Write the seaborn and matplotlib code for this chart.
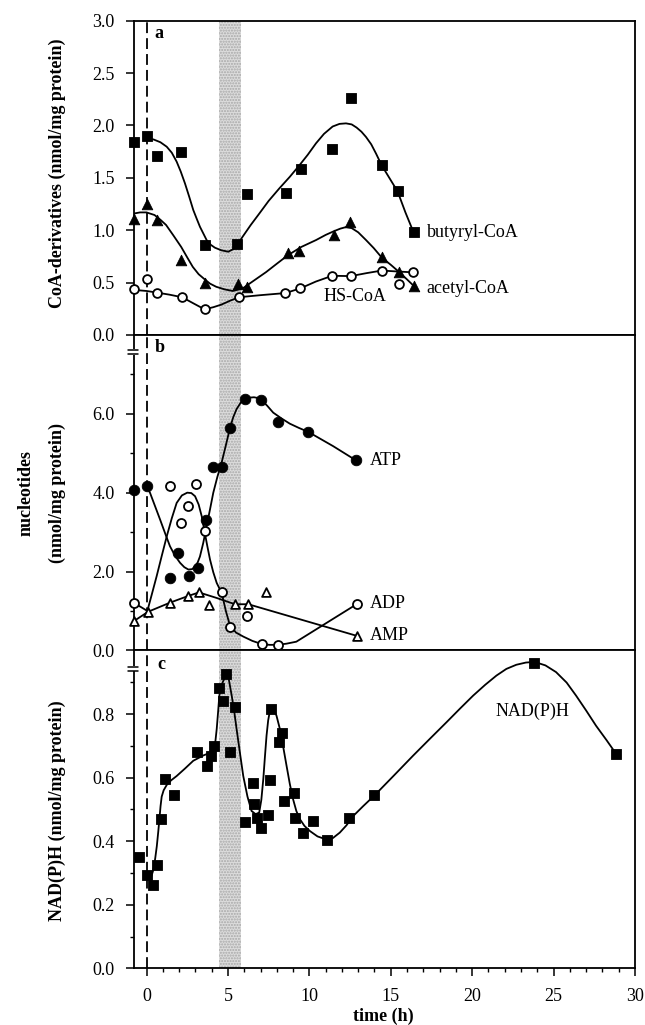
import matplotlib
matplotlib.use("Agg")
import matplotlib.pyplot as plt
from matplotlib.ticker import MultipleLocator, FixedLocator, FormatStrFormatter
import seaborn as sns

# ---------------- data ----------------
# panel a : CoA derivatives
t_butyryl = [-0.75, 0.0, 0.66, 2.09, 3.58, 5.56, 6.2, 8.57, 9.49, 11.37, 12.56, 14.44, 15.42, 16.4]
butyryl = [1.84, 1.90, 1.71, 1.75, 0.86, 0.87, 1.35, 1.36, 1.58, 1.78, 2.26, 1.62, 1.37, 0.98]
t_butyryl_fit = [0.0, 0.42, 0.85, 1.24, 1.55, 1.85, 2.1, 2.36, 2.62, 2.87, 3.08, 3.28, 3.5, 3.69,
                 3.95, 4.2, 4.6, 5.02, 5.43, 5.91, 6.4, 6.93, 7.5, 8.16, 8.8, 9.39, 9.9, 10.41,
                 10.9, 11.43, 11.85, 12.25, 12.6, 12.9, 13.2, 13.48, 13.8, 14.1, 14.44, 14.91,
                 15.42, 15.9, 16.4]
butyryl_fit = [1.87, 1.867, 1.84, 1.797, 1.74, 1.654, 1.56, 1.447, 1.32, 1.193, 1.11, 1.033, 0.965,
               0.906, 0.86, 0.833, 0.808, 0.795, 0.827, 0.94, 1.05, 1.16, 1.28, 1.40, 1.51, 1.62,
               1.72, 1.83, 1.92, 1.99, 2.015, 2.02, 2.01, 1.98, 1.94, 1.89, 1.82, 1.73, 1.62, 1.50,
               1.37, 1.17, 0.98]

t_acetyl = [-0.75, 0.0, 0.66, 2.13, 3.58, 5.64, 6.18, 8.67, 9.39, 11.49, 12.5, 14.44, 15.52, 16.4]
acetyl = [1.11, 1.25, 1.10, 0.72, 0.50, 0.49, 0.455, 0.78, 0.80, 0.955, 1.075, 0.74, 0.60, 0.47]
t_acetyl_fit = [-0.75, -0.4, 0.0, 0.49, 0.85, 1.2, 1.65, 2.13, 2.5, 2.84, 3.2, 3.58, 3.9, 4.28,
                4.8, 5.3, 5.91, 6.6, 7.34, 8.0, 8.67, 9.5, 10.41, 11.0, 11.5, 11.9, 12.25, 12.6,
                13.0, 13.48, 13.95, 14.44, 15.0, 15.52, 16.0, 16.4]
acetyl_fit = [1.16, 1.17, 1.17, 1.145, 1.10, 1.05, 0.95, 0.84, 0.74, 0.65, 0.58, 0.53, 0.49, 0.46,
              0.435, 0.42, 0.445, 0.52, 0.60, 0.68, 0.76, 0.84, 0.906, 0.955, 0.99, 1.015, 1.03,
              1.02, 0.98, 0.906, 0.83, 0.74, 0.67, 0.60, 0.53, 0.47]

t_hscoa = [-0.75, 0.0, 0.66, 2.19, 3.56, 5.66, 8.53, 9.45, 11.4, 12.55, 14.45, 15.52, 16.34]
hscoa = [0.436, 0.534, 0.404, 0.36, 0.245, 0.36, 0.40, 0.445, 0.565, 0.562, 0.615, 0.487, 0.598]
t_hscoa_fit = [-0.75, 0.0, 0.66, 1.4, 2.19, 2.9, 3.56, 4.1, 4.6, 5.1, 5.66, 7.0, 8.53, 9.45, 10.4,
               11.4, 12.55, 13.5, 14.45, 15.4, 16.34]
hscoa_fit = [0.43, 0.42, 0.404, 0.385, 0.36, 0.30, 0.245, 0.265, 0.29, 0.325, 0.36, 0.38, 0.40,
             0.445, 0.51, 0.565, 0.562, 0.59, 0.615, 0.606, 0.598]

# panel b : nucleotides
t_atp = [-0.75, 0.0, 1.47, 1.96, 2.6, 3.15, 3.66, 4.07, 4.62, 5.13, 6.05, 7.05, 8.06, 9.94, 12.86]
atp = [4.08, 4.17, 1.83, 2.47, 1.89, 2.09, 3.30, 4.65, 4.65, 5.65, 6.37, 6.35, 5.80, 5.54, 4.82]
t_atp_fit = [0.0, 0.21, 0.52, 0.83, 1.14, 1.44, 1.75, 2.06, 2.32, 2.57, 2.8, 2.98, 3.14, 3.28,
             3.48, 3.69, 3.9, 4.1, 4.35, 4.61, 4.87, 5.13, 5.33, 5.53, 5.78, 6.05, 6.3, 6.6, 6.85,
             7.05, 7.4, 7.78, 8.3, 8.8, 9.37, 9.94, 10.7, 11.46, 12.16, 12.86]
atp_fit = [4.17, 4.0, 3.66, 3.32, 2.97, 2.64, 2.40, 2.22, 2.11, 2.05, 2.06, 2.13, 2.23, 2.38, 2.72,
           3.15, 3.58, 4.0, 4.40, 4.76, 5.2, 5.65, 5.92, 6.12, 6.28, 6.37, 6.41, 6.42, 6.40, 6.35,
           6.21, 6.03, 5.88, 5.75, 5.64, 5.54, 5.36, 5.18, 5.0, 4.82]

t_adp = [-0.75, 1.47, 2.09, 2.53, 3.05, 3.56, 4.61, 5.12, 6.15, 7.07, 8.05, 12.9]
adp = [1.2, 4.17, 3.23, 3.66, 4.21, 3.02, 1.48, 0.60, 0.88, 0.155, 0.14, 1.17]
t_adp_fit = [-0.75, 0.05, 0.33, 0.62, 0.93, 1.24, 1.55, 1.85, 2.17, 2.5, 2.75, 2.98, 3.2, 3.39,
             3.56, 3.73, 3.9, 4.1, 4.31, 4.62, 4.87, 5.13, 5.5, 5.94, 6.5, 7.07, 7.55, 8.05, 8.6,
             9.2, 12.9]
adp_fit = [1.2, 1.0, 1.43, 1.88, 2.39, 2.89, 3.35, 3.74, 3.93, 4.0, 3.99, 3.91, 3.70, 3.40, 3.02,
           2.65, 2.3, 1.98, 1.71, 1.45, 1.0, 0.62, 0.45, 0.35, 0.24, 0.16, 0.14, 0.14, 0.17, 0.22,
           1.17]

t_amp = [-0.75, 0.1, 1.44, 2.56, 3.22, 3.85, 5.43, 6.25, 7.31, 12.9]
amp = [0.75, 0.98, 1.21, 1.38, 1.47, 1.14, 1.17, 1.17, 1.48, 0.37]
t_amp_fit = [-0.75, 0.1, 1.44, 2.56, 3.22, 4.3, 5.43, 6.25, 12.9]
amp_fit = [0.75, 0.98, 1.21, 1.38, 1.47, 1.33, 1.17, 1.17, 0.37]

# panel c : NAD(P)H
t_nad = [-0.44, 0.04, 0.37, 0.66, 0.9, 1.12, 1.7, 3.09, 3.72, 3.97, 4.13, 4.44, 4.68, 4.91, 5.13,
         5.44, 6.05, 6.52, 6.63, 6.77, 7.04, 7.44, 7.59, 7.67, 8.12, 8.32, 8.47, 9.08, 9.14, 9.63,
         10.2, 11.08, 12.41, 14.0, 23.8, 28.85]
nad = [0.351, 0.293, 0.263, 0.324, 0.471, 0.595, 0.545, 0.681, 0.637, 0.669, 0.700, 0.882, 0.840,
       0.927, 0.682, 0.823, 0.461, 0.582, 0.516, 0.472, 0.440, 0.482, 0.592, 0.816, 0.711, 0.739,
       0.526, 0.550, 0.472, 0.427, 0.463, 0.405, 0.472, 0.545, 0.96, 0.674]
t_nad_fit = [0.3, 0.42, 0.53, 0.63, 0.72, 0.79, 0.86, 0.93, 1.05, 1.24, 1.5, 1.85, 2.35, 2.87, 3.5,
             3.85, 4.1, 4.22, 4.31, 4.4, 4.47, 4.6, 4.72, 4.82, 4.91, 5.05, 5.23, 5.38, 5.53, 5.73,
             5.94, 6.2, 6.45, 6.7, 6.92, 7.05, 7.17, 7.27, 7.37, 7.47, 7.58, 7.68, 7.78, 7.98,
             8.19, 8.4, 8.6, 8.8, 9.0, 9.2, 9.42, 9.7, 10.03, 10.5, 11.06, 11.45, 11.87, 12.28,
             12.69, 13.3, 14.02, 15.2, 16.37, 17.4, 18.42, 19.25, 20.06, 20.8, 21.49, 22.1, 22.71,
             23.3, 23.83, 24.5, 25.15, 25.8, 26.38, 27.0, 27.61, 28.25, 28.85]
nad_fit = [0.29, 0.31, 0.345, 0.384, 0.43, 0.469, 0.51, 0.54, 0.56, 0.577, 0.591, 0.605, 0.628,
           0.653, 0.67, 0.677, 0.684, 0.71, 0.753, 0.81, 0.858, 0.89, 0.905, 0.915, 0.927, 0.91,
           0.858, 0.81, 0.753, 0.68, 0.605, 0.54, 0.495, 0.485, 0.49, 0.53, 0.595, 0.665, 0.732,
           0.78, 0.811, 0.82, 0.818, 0.795, 0.753, 0.695, 0.637, 0.58, 0.532, 0.495, 0.469, 0.448,
           0.432, 0.415, 0.405, 0.41, 0.427, 0.45, 0.479, 0.51, 0.545, 0.607, 0.669, 0.722, 0.774,
           0.817, 0.858, 0.892, 0.921, 0.942, 0.955, 0.962, 0.964, 0.953, 0.932, 0.899, 0.858,
           0.811, 0.763, 0.718, 0.674]

band = [4.48, 5.81]
x_ticks = [0, 5, 10, 15, 20, 25, 30]

# ---------------- style ----------------
sns.set_theme(style="ticks", rc={
    "axes.edgecolor": "black", "xtick.color": "black", "ytick.color": "black",
    "text.color": "black", "axes.labelcolor": "black", "axes.linewidth": 1.3,
})
plt.rcParams["font.family"] = ["Liberation Serif", "DejaVu Serif"]
FS = 13

fig = plt.figure(figsize=(6.45, 10.25), dpi=100)
L, W = 0.2070, 0.7775
ax_a = fig.add_axes([L, 0.6732, W, 0.3066])
ax_b = fig.add_axes([L, 0.3655, W, 0.3077])
ax_c = fig.add_axes([L, 0.0553, W, 0.3101])


def fit(ax, t, v):
    sns.lineplot(x=t, y=v, sort=False, estimator=None, color="black", linewidth=1.3, ax=ax, zorder=3)


def pts(ax, t, v, marker, s, filled=True):
    sns.scatterplot(x=t, y=v, ax=ax, marker=marker, s=s,
                    color="black" if filled else "white", edgecolor="black",
                    linewidth=0.6 if filled else 1.3, zorder=4, clip_on=False)


def axis_break(ax, yf):
    ax.plot([0, 0], [yf - 0.008, yf + 0.008], transform=ax.transAxes, color="white",
            lw=3, clip_on=False, zorder=10, solid_capstyle="butt")
    for dy in (-0.0065, 0.0065):
        ax.plot([-0.011, 0.009], [yf + dy, yf + dy], transform=ax.transAxes, color="black",
                lw=1.1, clip_on=False, zorder=11)


for ax in (ax_a, ax_b, ax_c):
    ax.axvspan(band[0], band[1], facecolor="#dcdcdc", edgecolor="#a8a8a8", hatch="......",
               linewidth=0, zorder=0)
    ax.axvline(0, color="black", lw=1.3, ls=(0, (6, 2.8)), zorder=2)
    ax.set_xlim(-0.8, 30)
    for sp in ax.spines.values():
        sp.set_linewidth(1.3)
    ax.tick_params(axis="y", which="major", direction="out", length=5.5, width=1.1,
                   labelsize=FS, pad=8)
    ax.tick_params(axis="y", which="minor", direction="out", length=3, width=1.0)
    ax.set_xlabel("")
    ax.set_ylabel("")

# panel a
fit(ax_a, t_butyryl_fit, butyryl_fit)
fit(ax_a, t_acetyl_fit, acetyl_fit)
fit(ax_a, t_hscoa_fit, hscoa_fit)
pts(ax_a, t_butyryl, butyryl, "s", 62)
pts(ax_a, t_acetyl, acetyl, "^", 58)
pts(ax_a, t_hscoa, hscoa, "o", 40, filled=False)
ax_a.set_ylim(0, 3.0)
ax_a.yaxis.set_major_locator(MultipleLocator(0.5))
ax_a.yaxis.set_major_formatter(FormatStrFormatter("%.1f"))
ax_a.tick_params(axis="x", bottom=False, labelbottom=False)
ax_a.text(17.25, 0.98, "butyryl-CoA", fontsize=FS, va="center", ha="left")
ax_a.text(17.2, 0.445, "acetyl-CoA", fontsize=FS, va="center", ha="left")
ax_a.text(12.8, 0.365, "HS-CoA", fontsize=FS, va="center", ha="center")
ax_a.text(0.77, 2.88, "a", fontsize=FS, fontweight="bold", va="center", ha="center")

# panel b
fit(ax_b, t_atp_fit, atp_fit)
fit(ax_b, t_adp_fit, adp_fit)
fit(ax_b, t_amp_fit, amp_fit)
pts(ax_b, t_atp, atp, "o", 58)
pts(ax_b, t_adp, adp, "o", 42, filled=False)
pts(ax_b, t_amp, amp, "^", 40, filled=False)
ax_b.set_ylim(0, 8.0)
ax_b.yaxis.set_major_locator(FixedLocator([0, 2, 4, 6]))
ax_b.yaxis.set_minor_locator(FixedLocator([1, 3, 5, 7]))
ax_b.yaxis.set_major_formatter(FormatStrFormatter("%.1f"))
ax_b.tick_params(axis="x", which="both", bottom=False, labelbottom=False)
ax_b.text(13.7, 4.82, "ATP", fontsize=FS, va="center", ha="left")
ax_b.text(13.7, 1.18, "ADP", fontsize=FS, va="center", ha="left")
ax_b.text(13.7, 0.38, "AMP", fontsize=FS, va="center", ha="left")
ax_b.text(0.83, 7.69, "b", fontsize=FS, fontweight="bold", va="center", ha="center")
axis_break(ax_b, 0.946)

# panel c
fit(ax_c, t_nad_fit, nad_fit)
pts(ax_c, t_nad, nad, "s", 55)
ax_c.set_ylim(0, 1.0)
ax_c.yaxis.set_major_locator(FixedLocator([0, 0.2, 0.4, 0.6, 0.8]))
ax_c.yaxis.set_minor_locator(FixedLocator([0.1, 0.3, 0.5, 0.7, 0.9]))
ax_c.yaxis.set_major_formatter(FormatStrFormatter("%.1f"))
ax_c.xaxis.set_major_locator(FixedLocator(x_ticks))
ax_c.xaxis.set_minor_locator(MultipleLocator(1))
ax_c.tick_params(axis="x", which="major", direction="out", length=5.5, width=1.1,
                 labelsize=FS, pad=8.5)
ax_c.tick_params(axis="x", which="minor", direction="out", length=3, width=1.0)
ax_c.text(23.68, 0.81, "NAD(P)H", fontsize=FS, va="center", ha="center")
ax_c.text(0.89, 0.955, "c", fontsize=FS, fontweight="bold", va="center", ha="center")
axis_break(ax_c, 0.9424)

# axis titles
fig.text(0.0884, 1 - 173 / 1025, "CoA-derivatives (nmol/mg protein)", rotation=90,
         fontsize=FS, fontweight="bold", ha="center", va="center")
fig.text(0.040, 1 - 492.5 / 1025, "nucleotides", rotation=90,
         fontsize=FS, fontweight="bold", ha="center", va="center")
fig.text(0.089, 1 - 493 / 1025, "(nmol/mg protein)", rotation=90,
         fontsize=FS, fontweight="bold", ha="center", va="center")
fig.text(0.0884, 1 - 811 / 1025, "NAD(P)H (nmol/mg protein)", rotation=90,
         fontsize=FS, fontweight="bold", ha="center", va="center")
fig.text(0.595, 1 - 1021 / 1025, "time (h)", fontsize=FS, fontweight="bold",
         ha="center", va="baseline")

fig.savefig("out.png", dpi=100)
